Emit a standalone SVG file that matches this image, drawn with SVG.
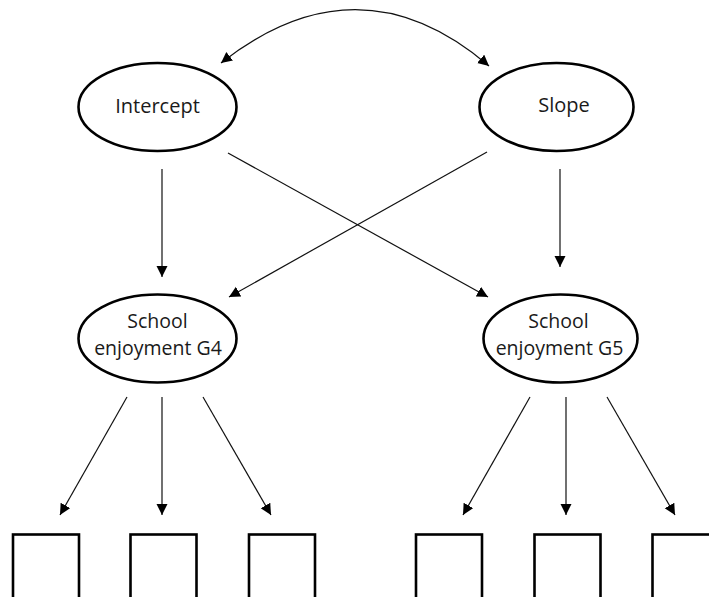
<svg xmlns="http://www.w3.org/2000/svg" width="709" height="597" viewBox="0 0 709 597">
<style>
.node ellipse{fill:#fff;stroke:#000;stroke-width:2.6}
.ind rect{fill:#fff;stroke:#000;stroke-width:2.6}
.lbl{font-family:"Open Sans","Noto Sans","Liberation Sans",sans-serif;fill:#1a1a1a;text-anchor:middle}
.top{font-size:20px}
.mid{font-size:19.5px}
.conn path,.conn line{fill:none;stroke:#111;stroke-width:1.2}
</style>
<defs>
<marker id="ah" markerUnits="userSpaceOnUse" markerWidth="12" markerHeight="12" refX="11" refY="5.5" orient="auto-start-reverse" viewBox="0 0 12 12">
<path d="M0,0 L11,5.5 L0,11 z" fill="#000"/>
</marker>
</defs>
<rect width="709" height="597" fill="#fff"/>
<g class="conn" id="connectors">
<path d="M221,63 Q359,-45 489,66" marker-start="url(#ah)" marker-end="url(#ah)"/>
<line x1="162" y1="169" x2="162" y2="277" marker-end="url(#ah)"/>
<line x1="560" y1="169" x2="560" y2="267" marker-end="url(#ah)"/>
<line x1="228" y1="153" x2="488" y2="297" marker-end="url(#ah)"/>
<line x1="487" y1="152" x2="229" y2="297" marker-end="url(#ah)"/>
<line x1="127" y1="397" x2="60" y2="515" marker-end="url(#ah)"/>
<line x1="162" y1="397" x2="162" y2="515" marker-end="url(#ah)"/>
<line x1="203" y1="397" x2="271" y2="515" marker-end="url(#ah)"/>
<line x1="530" y1="397" x2="463" y2="515" marker-end="url(#ah)"/>
<line x1="566" y1="397" x2="566" y2="515" marker-end="url(#ah)"/>
<line x1="607" y1="397" x2="675" y2="515" marker-end="url(#ah)"/>
</g>
<g class="node" id="intercept">
<ellipse cx="157.5" cy="107" rx="79" ry="44"/>
<text class="lbl top" x="157.5" y="113">Intercept</text>
</g>
<g class="node" id="slope">
<ellipse cx="556.5" cy="107" rx="77" ry="44"/>
<text class="lbl top" x="564" y="112">Slope</text>
</g>
<g class="node" id="g4">
<ellipse cx="157.5" cy="338.5" rx="79" ry="44"/>
<text class="lbl mid" x="157.5" y="328">School</text>
<text class="lbl mid" x="158" y="355">enjoyment G4</text>
</g>
<g class="node" id="g5">
<ellipse cx="560.5" cy="338.5" rx="77" ry="44"/>
<text class="lbl mid" x="558.5" y="328">School</text>
<text class="lbl mid" x="559.5" y="355">enjoyment G5</text>
</g>
<g class="ind" id="y1"><rect x="13" y="534.5" width="66" height="80"/></g>
<g class="ind" id="y2"><rect x="130.5" y="534.5" width="66" height="80"/></g>
<g class="ind" id="y3"><rect x="249" y="534.5" width="66" height="80"/></g>
<g class="ind" id="y4"><rect x="416" y="534.5" width="66" height="80"/></g>
<g class="ind" id="y5"><rect x="534.5" y="534.5" width="66" height="80"/></g>
<g class="ind" id="y6"><rect x="652.5" y="534.5" width="66" height="80"/></g>
</svg>
